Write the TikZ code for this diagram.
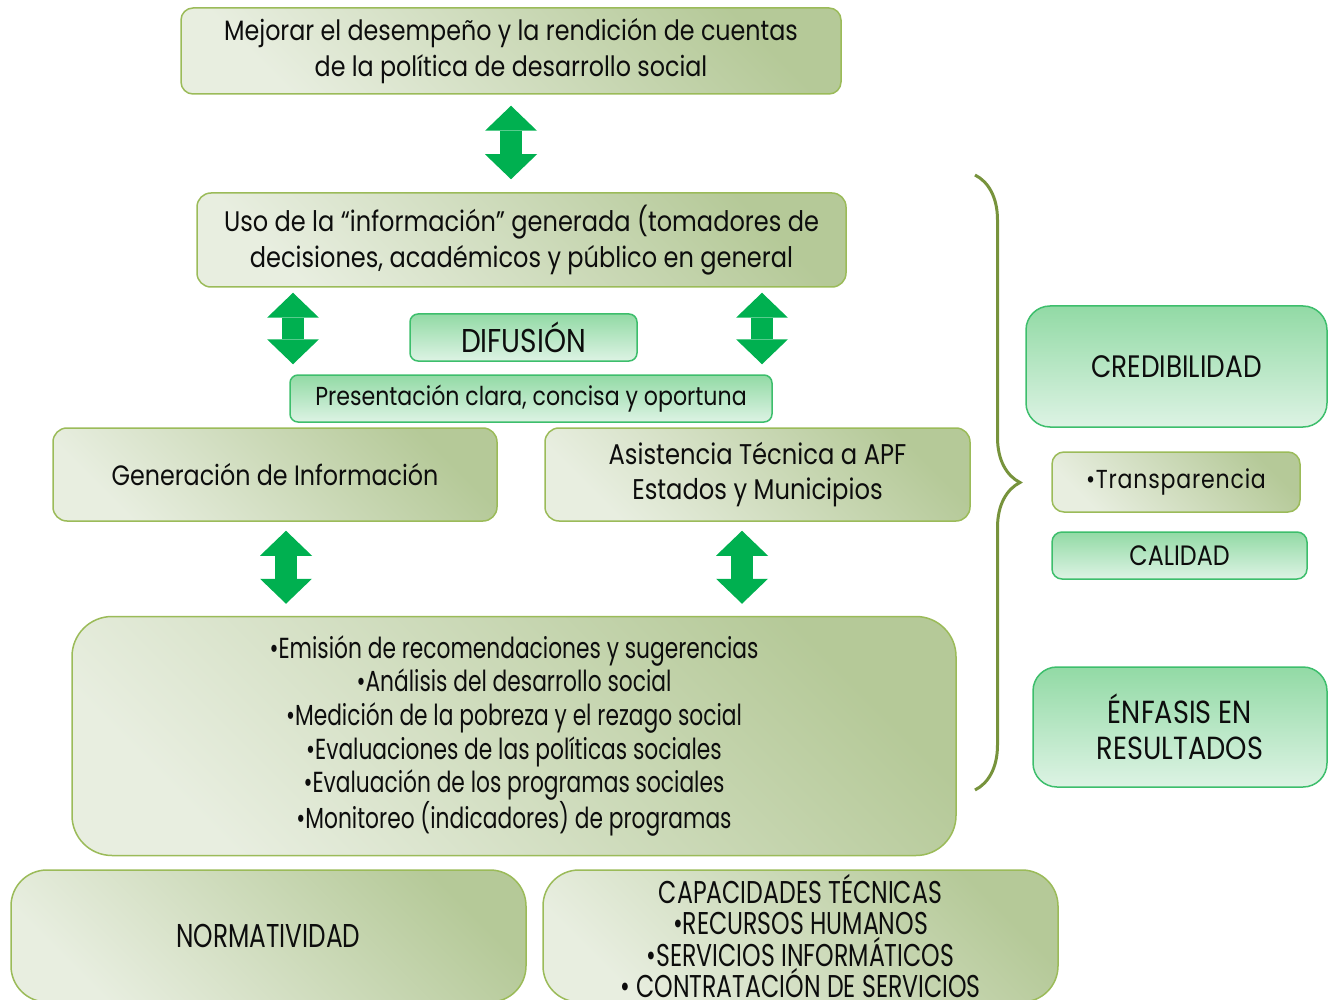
\documentclass[tikz,border=0pt]{standalone}
\usepackage{fontspec}
\setmainfont{Poppins}[FakeStretch=0.85]
\newfontfamily\condfont{Poppins}[FakeStretch=0.75]
\newfontfamily\spacedfont{Poppins}[FakeStretch=0.85,LetterSpace=3]
\usetikzlibrary{arrows.meta,decorations.pathreplacing}

\definecolor{olivedark}{HTML}{B5C998}
\definecolor{olivelight}{HTML}{E8EEE0}
\definecolor{oliveline}{HTML}{9BBB59}
\definecolor{greentop}{HTML}{92DAA5}
\definecolor{greenbot}{HTML}{DDF3E4}
\definecolor{greenline}{HTML}{3DBE6C}
\definecolor{arrowgreen}{HTML}{00B050}
\definecolor{bracecol}{HTML}{77933C}
\definecolor{textcol}{HTML}{0D0D0D}

\begin{document}
\begin{tikzpicture}[x=1pt, y=-1pt,
    olivebox/.style={draw=oliveline, line width=1.5pt, top color=olivedark,
      bottom color=olivelight, shading angle=-45, align=center, inner sep=0pt,
      text=textcol},
    greenbox/.style={draw=greenline, line width=1.5pt, top color=greentop,
      bottom color=greenbot, align=center, inner sep=0pt, text=textcol},
    dblarrow/.style={draw=arrowgreen, line width=22pt,
      {Triangle[width=52pt,length=25pt,line width=0pt]}-{Triangle[width=52pt,length=25pt,line width=0pt]}},
  ]
  \path[use as bounding box] (0,0) rectangle (1336,1000);
  \clip (0,0) rectangle (1336,1000);

  % Goal and use of information
  \node[olivebox, rounded corners=12pt, minimum width=660pt, minimum height=86pt,
    font=\fontsize{28}{36}\selectfont] (meta) at (511, 51)
    {Mejorar el desempeño y la rendición de cuentas\\de la política de desarrollo social};
  \node[olivebox, rounded corners=14pt, minimum width=649pt, minimum height=94pt,
    font=\fontsize{28.3}{36}\selectfont] (uso) at (521.5, 240)
    {Uso de la “información” generada (tomadores de\\decisiones, académicos y público en general};

  % Dissemination
  \node[greenbox, rounded corners=8pt, minimum width=227pt, minimum height=47pt,
    font=\fontsize{33}{36}\selectfont] (difusion) at (523.5, 337.5) {DIFUSIÓN};
  \node[greenbox, rounded corners=8pt, minimum width=482pt, minimum height=47pt,
    font=\fontsize{26}{30}\selectfont] (presenta) at (531, 398.5)
    {Presentación clara, concisa y oportuna};

  % Generation and assistance
  \node[olivebox, rounded corners=14pt, minimum width=444pt, minimum height=93pt,
    font=\fontsize{28}{35}\selectfont] (gen) at (275, 474.5) {Generación de Información};
  \node[olivebox, rounded corners=14pt, minimum width=425pt, minimum height=93pt,
    font=\fontsize{28.5}{35}\selectfont] (asis) at (757.5, 474.5)
    {Asistencia Técnica a APF\\Estados y Municipios};

  % Activities
  \node[olivebox, rounded corners=40pt, minimum width=884pt, minimum height=239pt,
    font=\condfont\fontsize{29}{33.6}\selectfont] (acciones) at (514, 736)
    {•Emisión de recomendaciones y sugerencias\\
     •Análisis del desarrollo social\\
     •Medición de la pobreza y el rezago social\\
     •Evaluaciones de las políticas sociales\\
     •Evaluación de los programas sociales\\
     •Monitoreo (indicadores) de programas};

  % Foundations
  \node[olivebox, rounded corners=36pt, minimum width=515pt, minimum height=132pt,
    font=\condfont\fontsize{33}{32.5}\selectfont] (norma) at (268.5, 936) {NORMATIVIDAD};
  \node[olivebox, rounded corners=36pt, minimum width=515pt, minimum height=132pt,
    font=\condfont\fontsize{31.5}{31.6}\selectfont] (capac) at (800.5, 936)
    {CAPACIDADES TÉCNICAS\\•RECURSOS HUMANOS\\•SERVICIOS INFORMÁTICOS\\• CONTRATACIÓN DE SERVICIOS};

  % Principles
  \node[greenbox, rounded corners=24pt, minimum width=301pt, minimum height=121pt,
    font=\fontsize{31}{36}\selectfont] (cred) at (1176.5, 366.5) {CREDIBILIDAD};
  \node[olivebox, rounded corners=12pt, minimum width=248pt, minimum height=60pt,
    font=\spacedfont\fontsize{26}{36}\selectfont] (transp) at (1176, 482) {•Transparencia};
  \node[greenbox, rounded corners=10pt, minimum width=255pt, minimum height=47pt,
    font=\fontsize{28}{36}\selectfont] (calidad) at (1179.5, 555.5) {CALIDAD};
  \node[greenbox, rounded corners=24pt, minimum width=294pt, minimum height=120pt,
    font=\fontsize{32}{36}\selectfont] (enfasis) at (1180, 727) {ÉNFASIS EN\\RESULTADOS};

  % Arrows
  \coordinate (xl) at (293, 0);
  \coordinate (xr) at (762, 0);
  \coordinate (xgl) at (286, 0);
  \coordinate (xgr) at (742, 0);
  \draw[dblarrow, shorten <=11pt, shorten >=13pt] (meta.south) -- (meta.south |- uso.north);
  \draw[dblarrow, shorten <=5pt, shorten >=63pt] (uso.south -| xl) -- (gen.north -| xl);
  \draw[dblarrow, shorten <=5pt, shorten >=63pt] (uso.south -| xr) -- (asis.north -| xr);
  \draw[dblarrow, shorten <=9pt, shorten >=12pt] (gen.south -| xgl) -- (acciones.north -| xgl);
  \draw[dblarrow, shorten <=9pt, shorten >=12pt] (asis.south -| xgr) -- (acciones.north -| xgr);

  % Brace
  \coordinate (bt) at (975, 175);
  \coordinate (bb) at (975, 790);
  \draw[bracecol, line width=3pt, decorate, decoration={brace, amplitude=45pt}] (bt) -- (bb);
\end{tikzpicture}
\end{document}
